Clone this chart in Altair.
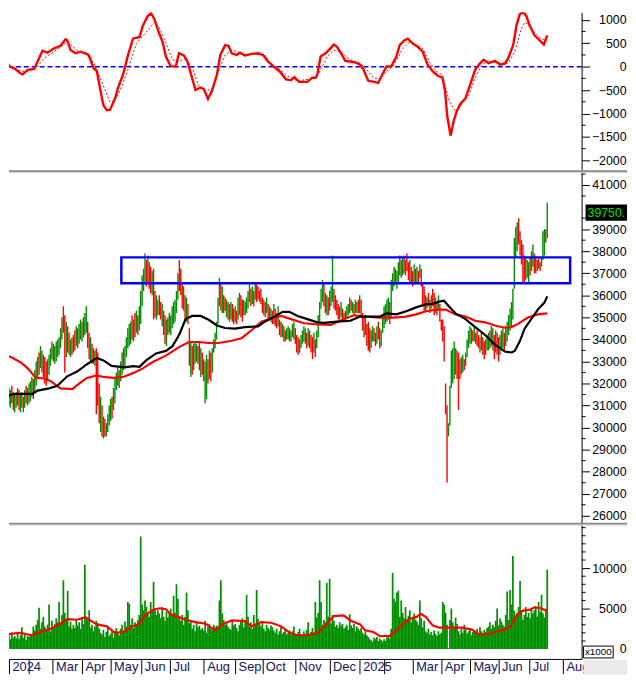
import altair as alt
import pandas as pd

FONT = "Liberation Sans"
GREEN = "#008f00"
RED = "#ff0000"
BLUE = "#0000ff"
NAVY = "#14145e"

W = 580
H_OSC, H_PRICE, H_VOL = 160, 357, 138
X_DOMAIN = [5, 405]

# ---------------- time axis: month separators (bar index) ----------------
month_pos = [5, 19, 35.5, 56, 76, 97.5, 117.5, 141, 163, 182, 205, 229, 250,
             267, 287, 307, 327, 347, 368.5, 392]
month_lbl = ["2024", "", "Mar", "Apr", "May", "Jun", "Jul", "Aug", "Sep", "Oct",
             "Nov", "Dec", "2025", "", "Mar", "Apr", "May", "Jun", "Jul", "Aug"]

# ---------------- daily bars (prices in hundreds) ----------------
bar_high = [
    330, 327, 325, 322, 320, 318, 317, 319, 316, 315,
    316, 318, 317, 315, 316, 314, 317, 319, 318, 320,
    321, 323, 322, 326, 330, 332, 334, 337, 335, 333,
    332, 330, 331, 333, 336, 339, 338, 337, 339, 340,
    341, 345, 350, 355, 351, 348, 346, 343, 340, 341,
    342, 344, 346, 345, 347, 349, 348, 350, 352, 355,
    348, 343, 341, 338, 336, 335, 336, 334, 320, 314,
    310, 305, 304, 302, 306, 310, 313, 314, 318, 322,
    325, 327, 326, 330, 334, 336, 337, 341, 345, 347,
    348, 351, 349, 352, 353, 351, 355, 362, 369, 372,
    379, 376, 378, 375, 373, 371, 372, 362, 360, 358,
    360, 357, 356, 353, 351, 349, 350, 352, 351, 355,
    357, 358, 362, 370, 376, 372, 365, 364, 360, 359,
    356, 345, 339, 337, 338, 339, 338, 337, 339, 336,
    334, 331, 330, 333, 331, 335, 334, 336, 340, 343,
    348, 359, 368, 365, 364, 360, 359, 358, 357, 356,
    357, 356, 354, 355, 353, 359, 361, 360, 358, 358,
    357, 359, 362, 365, 363, 364, 362, 366, 365, 364,
    362, 363, 359, 358, 357, 359, 356, 355, 354, 353,
    356, 354, 352, 355, 349, 348, 347, 346, 344, 345,
    346, 345, 344, 347, 348, 345, 342, 341, 340, 342,
    344, 346, 345, 343, 345, 344, 342, 341, 343, 340,
    344, 351, 357, 363, 367, 365, 361, 360, 359, 362,
    364, 378, 363, 360, 358, 356, 355, 357, 354, 352,
    353, 355, 356, 359, 358, 357, 356, 358, 357, 358,
    360, 358, 352, 350, 351, 347, 348, 345, 344, 346,
    345, 343, 346, 348, 345, 344, 351, 355, 356, 358,
    359, 357, 367, 370, 373, 372, 371, 375, 378, 376,
    377, 378, 376, 379, 375, 376, 373, 371, 374, 372,
    373, 371, 374, 372, 366, 364, 360, 359, 361, 358,
    360, 363, 361, 359, 357, 360, 356, 349, 349, 346,
    320, 310, 302, 319, 335, 336, 339, 336, 335, 334,
    331, 332, 333, 331, 334, 340, 344, 346, 345, 344,
    346, 343, 344, 342, 341, 343, 341, 339, 340, 342,
    343, 344, 346, 345, 342, 344, 343, 341, 342, 344,
    345, 343, 346, 348, 351, 354, 357, 363, 386, 391,
    393, 395, 389, 385, 383, 378, 377, 376, 375, 377,
    380, 383, 379, 377, 376, 377, 375, 377, 389, 390, 390, 402,
]
bar_low = [
    318, 315, 313, 312, 311, 310, 309, 311, 308, 307,
    309, 310, 308, 307, 309, 307, 309, 311, 310, 311,
    312, 314, 313, 316, 319, 322, 324, 327, 325, 323,
    320, 319, 321, 324, 328, 331, 330, 329, 330, 332,
    333, 336, 340, 343, 325, 332, 334, 333, 332, 333,
    334, 335, 337, 336, 338, 340, 339, 341, 342, 343,
    336, 331, 330, 329, 329, 328, 306, 310, 302, 298,
    296, 295, 296, 296, 298, 301, 303, 304, 308, 311,
    317, 319, 318, 321, 324, 326, 327, 332, 336, 337,
    338, 340, 339, 341, 343, 342, 344, 347, 355, 362,
    365, 364, 366, 363, 361, 360, 349, 350, 349, 351,
    351, 349, 346, 342, 338, 337, 342, 343, 342, 345,
    347, 348, 352, 358, 362, 360, 354, 353, 349, 348,
    347, 328, 323, 324, 326, 329, 330, 329, 326, 323,
    324, 321, 311, 313, 320, 322, 321, 325, 334, 336,
    340, 347, 355, 353, 352, 352, 353, 350, 349, 348,
    349, 348, 347, 348, 347, 349, 351, 350, 348, 351,
    351, 352, 354, 357, 355, 356, 355, 358, 357, 358,
    357, 356, 352, 351, 350, 352, 349, 349, 348, 347,
    347, 346, 345, 346, 342, 341, 341, 339, 339, 340,
    340, 339, 339, 341, 340, 338, 334, 333, 334, 336,
    338, 339, 338, 336, 337, 336, 334, 331, 334, 332,
    336, 341, 348, 354, 357, 355, 352, 351, 351, 353,
    355, 357, 354, 353, 351, 349, 349, 350, 348, 349,
    348, 350, 351, 352, 353, 352, 351, 352, 352, 352,
    352, 350, 344, 341, 342, 337, 335, 334, 336, 339,
    339, 337, 338, 340, 336, 337, 343, 345, 347, 348,
    349, 347, 350, 362, 364, 365, 363, 366, 369, 368,
    369, 370, 369, 371, 367, 366, 365, 364, 366, 365,
    366, 365, 368, 364, 355, 353, 353, 354, 355, 352,
    354, 355, 351, 352, 351, 353, 348, 344, 339, 330,
    306, 275, 296, 301, 318, 320, 322, 324, 322, 308,
    322, 324, 325, 326, 328, 332, 336, 338, 338, 339,
    339, 338, 337, 336, 334, 335, 333, 331, 333, 335,
    335, 336, 337, 335, 331, 334, 333, 330, 333, 335,
    336, 335, 337, 339, 342, 344, 346, 349, 363, 377,
    380, 383, 378, 374, 366, 366, 367, 368, 366, 369,
    371, 373, 370, 370, 371, 372, 371, 373, 376, 378, 384, 386,
]
bar_dir = (
    "rgrrgrgrrg" "grrgrggrgg" "ggrgggrggr" "rrggggrggg" "gggrrgrrgr"
    "grgrgggrgg" "rrgrrgrrrg" "rgrggggrgg" "grgggrgggg" "grgrgrgggg"
    "grgrrgrrgg" "rrgrrgrggg" "ggggrrrgrg" "rrgrgggrrg" "rrggrgrggg"
    "gggrgrrgrg" "grrgrggrrg" "ggggrgrgrr" "grrgrgrrgr" "grrgrrgrrg"
    "grgggrrrgg" "gggrgrrrgr" "gggggrrgrg" "ggrrrrggrr" "ggggrgrggr"
    "grrrgrrrgg" "rrgrrggggg" "grgggrggrg" "grgrrgrrgr" "grgrrrrgrr"
    "grrgrgrrrr" "rrggggggrr" "rggrgggggr" "grrrgrrrgg" "grggrgrrgg"
    "grgggggggg" "grrrrrgggr" "ggrrgrrgggrg"
)
# volume, in hundreds (axis unit is x1000)
bar_vol = [
    18, 41, 15, 22, 13, 17, 12, 19, 14, 16,
    13, 20, 12, 17, 27, 14, 18, 11, 16, 15,
    19, 17, 28, 23, 30, 36, 51, 25, 33, 40,
    28, 24, 30, 55, 22, 35, 27, 31, 38, 33,
    58, 30, 42, 85, 45, 36, 72, 28, 34, 25,
    30, 26, 37, 29, 33, 25, 38, 31, 104, 40,
    36, 48, 27, 30, 22, 28, 35, 32, 25, 20,
    18, 24, 15, 21, 27, 16, 19, 23, 14, 22,
    26, 20, 17, 25, 30, 21, 34, 28, 58, 56,
    30, 38, 26, 33, 29, 36, 42, 139, 55, 48,
    60, 52, 45, 40, 58, 47, 83, 50, 42, 48,
    44, 38, 52, 40, 35, 46, 39, 44, 50, 41,
    66, 45, 80, 62, 38, 35, 42, 30, 40, 70,
    48, 32, 36, 25, 30, 22, 34, 27, 29, 24,
    26, 23, 35, 20, 28, 31, 25, 24, 30, 27,
    29, 26, 60, 85, 44, 36, 30, 33, 28, 25,
    24, 35, 29, 31, 26, 22, 30, 34, 38, 27,
    36, 67, 40, 28, 33, 25, 42, 29, 73, 37,
    31, 28, 35, 25, 22, 30, 26, 24, 29, 27,
    23, 20, 25, 18, 22, 27, 19, 21, 24, 18,
    20, 23, 17, 22, 28, 19, 16, 21, 25, 18,
    16, 22, 19, 24, 33, 18, 21, 26, 20, 58,
    39, 45, 85, 58, 30, 36, 33, 82, 40, 87,
    32, 42, 35, 28, 30, 26, 33, 29, 31, 25,
    27, 30, 24, 43, 29, 26, 31, 22, 28, 25,
    23, 26, 20, 18, 22, 17, 15, 12, 11, 9,
    14, 12, 15, 10, 13, 11, 9, 12, 10, 14,
    16, 13, 25, 94, 62, 58, 70, 72, 40, 60,
    45, 38, 52, 35, 41, 48, 33, 39, 44, 36,
    34, 30, 60, 38, 27, 35, 22, 20, 25, 18,
    21, 17, 23, 19, 16, 22, 18, 20, 58, 55,
    45, 30, 1, 36, 50, 33, 28, 39, 31, 22,
    18, 25, 20, 30, 24, 19, 22, 26, 17, 21,
    23, 20, 25, 18, 27, 22, 19, 24, 21, 26,
    28, 33, 25, 30, 27, 35, 50, 29, 38, 34,
    30, 28, 42, 71, 36, 73, 55, 115, 47, 38,
    45, 52, 84, 48, 36, 42, 52, 40, 45, 38,
    50, 44, 48, 53, 40, 58, 46, 67, 44, 39, 50, 98,
]

# ---------------- oscillator (MACD-like) ----------------
macd_i = [0, 3, 5.4, 8.9, 13.5, 14.6, 18.1, 22.7, 25, 28.4, 31.9, 36.5, 41, 44.5, 45.7,
          48, 51.4, 54.9, 58.3, 60.6, 64, 66.4, 68.7, 71, 73.3, 75.6, 79, 81.3, 84.7,
          88.2, 91.6, 96.2, 98.5, 102, 104.3, 106.6, 110, 112.3, 114.6, 118, 121.5,
          123.8, 127.3, 129.6, 131.9, 135.3, 138.8, 141.1, 144, 146.8, 150.3, 152.6,
          156, 158.3, 160.6, 164, 166.4, 169.8, 174.4, 179, 182.5, 185.9, 190.5, 194,
          198.5, 202, 204.3, 207.7, 213.5, 216.9, 219.2, 220.4, 222.7, 226.1, 229.6,
          231.9, 234.2, 237.6, 239.9, 243.4, 246.8, 250.3, 252.6, 256, 259.5, 262.9,
          266.4, 268.7, 272.1, 275.6, 277.9, 281.3, 283.6, 287.1, 290.5, 294, 297.4,
          300.9, 304.3, 307.8, 309.6, 311.2, 313.5, 315.8, 318.1, 320.4, 323.9, 327.3,
          330.7, 334.2, 336.5, 339.9, 344.5, 348, 351.4, 353.7, 357.2, 359.5, 361.8,
          364.1, 366.4, 368.7, 372.1, 375.6, 378.6, 380, 381]
macd_v = [110, 125, 6, -42, -153, -167, -69, -48, 110, 340, 298, 390, 444, 583, 563,
          354, 285, 319, 285, 250, -28, -97, -479, -826, -930, -917, -688, -444, -167,
          250, 597, 632, 875, 1083, 1139, 1014, 701, 528, 215, 6, 6,
          285, 236, 110, -132, -500, -444, -479, -688, -514, -167, 250,
          458, 444, 285, 250, 298, 236, 271, 285, 250, 110, -14, -97,
          -271, -292, -222, -326, -326, -236, -236, -167, 215, 285, 390,
          472, 424, 250, 125, 110, 90, 42, -63, -306, -319, -347,
          -132, 6, 6, 215, 458, 563, 597, 493, 424, 319, 42,
          -97, -188, -236, -514, -1069, -1472, -1139, -930, -792, -674, -375,
          -63, 76, 146, 76, 125, 42, 63, 181, 458, 875, 1118,
          1167, 1083, 875, 667, 563, 472, 583, 667]
sig_i = [4.3, 13.5, 18.1, 25, 29.6, 36.5, 45.7, 52.6, 61.8, 68.7, 75.6, 79, 82.5, 87, 94,
         100.8, 106.6, 110, 113.5, 119.2, 123.8, 128.4, 133, 137.6, 142.2, 146.8, 151.4,
         156, 160.6, 169.8, 183.6, 188.2, 192.8, 199.7, 206.6, 218.1, 220.4, 227.3,
         231.9, 236.5, 243.4, 250.3, 254.9, 259.5, 264.1, 268.7, 273.3, 280.2, 284.8,
         289.4, 294, 298.6, 303.2, 307.8, 312.4, 317, 321.5, 326.1, 330.7, 335.3,
         339.9, 349, 353.7, 358.3, 362.9, 365.2, 367.5, 372.1, 376.7, 381]
sig_v = [42, -97, -97, 7, 181, 320, 528, 354, 215, -236, -757, -722, -514, -167, 493,
         736, 944, 840, 597, 146, 111, 181, -28, -410, -514, -479, -97,
         250, 354, 264, 250, 42, -28, -201, -306, -250, -201, 215,
         354, 319, 146, 76, -62, -236, -271, -97, 7, 389, 528,
         458, 389, 111, -97, -180, -722, -965, -792, -618, -236, 42,
         111, 76, 76, 319, 806, 944, 910, 736, 597, 563]

# ---------------- moving averages ----------------
ma_fast_i = [0, 4.3, 8.9, 21.5, 25, 33, 38.8, 45.7, 52.6, 59.5, 66.4, 71, 76.7, 85.9, 91.6,
             96.2, 100.8, 107.7, 114.6, 119.2, 123.8, 128.4, 133, 138.8, 144.5, 150.3,
             156, 162.9, 169.8, 179, 183.6, 190.5, 196.2, 200.8, 206.6, 213.5, 220.4,
             225, 234.2, 243.4, 250.3, 264.1, 268.7, 275.6, 282.5, 289.4, 296.3, 300.9,
             305.5, 308.9, 312.4, 317, 323.9, 330.7, 337.6, 344.5, 351.4, 356, 358.3,
             361.8, 365.2, 369.8, 374.4, 379, 381]
ma_fast_v = [31029, 31432, 31533, 31533, 31677, 31778, 31893, 32326, 32542, 32873, 33161,
             33046, 32801, 32729, 32786, 32758, 33046, 33363, 33478, 33694, 34199, 34919,
             35063, 35063, 34891, 34631, 34516, 34487, 34559, 34588, 34804, 35034, 35251,
             35251, 35063, 34919, 34775, 34746, 34804, 34847, 35034, 35034, 35178, 35135,
             35279, 35452, 35596, 35611, 35712, 35755, 35496, 35178, 34919, 34559, 34199,
             33766, 33449, 33406, 33478, 33910, 34487, 34919, 35351, 35668, 35950]
ma_slow_i = [0, 6.6, 13.5, 18.1, 23.8, 29.6, 34.2, 41, 49.1, 54.9, 59.5, 66.4, 71, 77.9,
             84.7, 91.6, 98.5, 105.4, 114.6, 123.8, 130.7, 137.6, 144.5, 151.4, 160.6,
             167.5, 174.4, 181.3, 188.2, 195.1, 202, 211.2, 220.4, 229.6, 238.8, 245.7,
             254.9, 264.1, 273.3, 282.5, 289.4, 296.3, 303.2, 310.1, 317, 323.9, 330.7,
             337.6, 344.5, 351.4, 356, 360.6, 367.5, 374.4, 381]
ma_slow_v = [33363, 33190, 32945, 32686, 32253, 32225, 32109, 31778, 31749, 32038, 32253,
             32369, 32297, 32253, 32297, 32470, 32686, 32974, 33262, 33651, 33882, 33882,
             33838, 33838, 33939, 34055, 34415, 34804, 34948, 35063, 34919, 34732, 34675,
             34660, 34919, 35092, 35034, 34991, 34991, 35034, 35135, 35279, 35351, 35351,
             35135, 35034, 34847, 34775, 34631, 34530, 34559, 34703, 34991, 35135, 35178]
vol_ma_i = [0, 6.6, 13.5, 20.4, 27.3, 34.2, 41, 45.7, 52.6, 58.3, 61.8, 66.4, 73.3, 79,
            84.7, 91.6, 96.2, 99.7, 105.4, 110, 114.6, 118.1, 123.8, 128.4, 135.3, 142.2,
            149.1, 153.7, 160.6, 169.8, 174.4, 181.3, 188.2, 195.1, 202, 206.6, 213.5,
            220.4, 227.3, 231.9, 238.8, 243.4, 250.3, 253.7, 259.5, 264.1, 271, 275.6,
            280.2, 284.8, 289.4, 292.8, 296.3, 300.9, 305.5, 321.5, 328.4, 333, 339.9,
            345.7, 351.4, 356, 359.5, 364.1, 368.7, 372.1, 376.7, 381]
vol_ma_v = [1586, 1911, 1992, 1708, 2114, 2520, 3130, 3700, 3618, 3944, 3537, 3049, 2805,
            1992, 2114, 2805, 3130, 4147, 4838, 5041, 4919, 4269, 3944, 3618, 3334, 3130,
            2317, 3049, 3537, 3456, 2805, 3334, 3253, 2805, 1911, 1708, 1708,
            1992, 3130, 4066, 4147, 3537, 3049, 2317, 2114, 1586, 1627, 2317,
            3130, 3740, 3944, 4350, 3944, 2927, 2643, 2643, 2398, 1830, 1830,
            2195, 2398, 2927, 4147, 4757, 4838, 5163, 5041, 4675]

# resistance zone (bar index range, price range)
zone_i = [83.5, 397]
zone_p = [36550, 37720]
last_close = 39750

# tick values (40000 label is hidden under the last-price tag)
osc_ticks = [-2000, -1500, -1000, -500, 0, 500, 1000]
osc_minor = [-1750, -1250, -750, -250, 250, 750]
price_ticks = [p for p in range(26000, 41001, 1000) if p != 40000]
price_minor = list(range(26500, 41501, 1000))
vol_ticks = [0, 5000, 10000]
vol_minor = [1000, 2000, 3000, 4000, 6000, 7000, 8000, 9000, 11000, 12000, 13000, 14000, 15000]

# ---------------- tables ----------------
n = min(len(bar_high), len(bar_low), len(bar_dir), len(bar_vol))
bars = pd.DataFrame({
    "i": list(range(n)),
    "hi": [h * 100 for h in bar_high[:n]],
    "lo": [v * 100 for v in bar_low[:n]],
    "d": list(bar_dir[:n]),
    "vol": [v * 100 for v in bar_vol[:n]],
})
bars["i0"] = bars["i"] - 0.6
bars["i1"] = bars["i"] + 0.6
bars["zero"] = 0


def pts(xs, vs):
    m = min(len(xs), len(vs))
    return pd.DataFrame({"i": xs[:m], "v": vs[:m]})


xs = alt.Scale(domain=X_DOMAIN, nice=False, zero=False)
osc_s = alt.Scale(domain=[-2210, 1160], nice=False, zero=False)
price_s = alt.Scale(domain=[25687, 41672], nice=False, zero=False)
vol_s = alt.Scale(domain=[-1220, 15610], nice=False, zero=False)

yax = dict(orient="right", grid=False, title=None, domainColor="black", domainWidth=1,
           tickColor="black", tickSize=8, tickWidth=1, labelAlign="right",
           labelBaseline="middle", labelPadding=37, labelFont=FONT, labelFontSize=12.5,
           labelColor="black", labelOverlap=False, labelBound=False, labelFlush=False,
           format="d")
osc_ax = alt.Axis(values=osc_ticks, **yax)
price_ax = alt.Axis(values=price_ticks, **yax)
vol_ax = alt.Axis(values=vol_ticks, **yax)

label_expr = " : ".join(f"datum.value == {p} ? '{l}'" for p, l in zip(month_pos, month_lbl)) + " : ''"
x_ax = alt.Axis(values=month_pos, labelExpr=label_expr, orient="bottom", grid=False, title=None,
                tickSize=15, tickColor="black", tickWidth=1, domainColor="black", domainWidth=1,
                labelAlign="left", labelBaseline="top", labelPadding=-13, labelOffset=3,
                labelFont=FONT, labelFontSize=13, labelColor=NAVY, labelOverlap=False,
                labelBound=False, labelFlush=False)
one = pd.DataFrame({"a": [0]})


def separator():
    dark = alt.Chart(one).mark_rule(color="#8a8a8a", strokeWidth=2).encode(
        x=alt.value(0), x2=alt.value(W + 46), y=alt.value(1))
    light = alt.Chart(one).mark_rule(color="#d8d8d8", strokeWidth=1).encode(
        x=alt.value(0), x2=alt.value(W + 46), y=alt.value(2.5))
    return [dark, light]


# ---------------- oscillator panel ----------------
zero_line = alt.Chart(pd.DataFrame({"v": [0]})).mark_rule(
    color=BLUE, strokeDash=[5, 3], strokeWidth=1.5).encode(
    y=alt.Y("v:Q", scale=osc_s, axis=osc_ax))
sig_line = alt.Chart(pts(sig_i, sig_v)).mark_line(
    color=RED, strokeWidth=1, strokeDash=[2, 2], clip=True).encode(
    x=alt.X("i:Q", scale=xs, axis=None), y=alt.Y("v:Q", scale=osc_s, axis=osc_ax))
macd_line = alt.Chart(pts(macd_i, macd_v)).mark_line(
    color=RED, strokeWidth=2.4, clip=True).encode(
    x=alt.X("i:Q", scale=xs, axis=None), y=alt.Y("v:Q", scale=osc_s, axis=osc_ax))
osc_minor_t = alt.Chart(pd.DataFrame({"v": osc_minor})).mark_rule(color="black").encode(
    x=alt.value(W), x2=alt.value(W + 4), y=alt.Y("v:Q", scale=osc_s, axis=osc_ax))
top = alt.layer(zero_line, sig_line, macd_line, osc_minor_t).properties(width=W, height=H_OSC)

# ---------------- price panel ----------------
candles = alt.Chart(bars).mark_rule(strokeWidth=1.4, clip=True).encode(
    x=alt.X("i:Q", scale=xs, axis=None),
    y=alt.Y("lo:Q", scale=price_s, axis=price_ax),
    y2="hi:Q",
    color=alt.Color("d:N", scale=alt.Scale(domain=["g", "r"], range=[GREEN, RED]), legend=None))
ma_slow = alt.Chart(pts(ma_slow_i, ma_slow_v)).mark_line(color=RED, strokeWidth=2.2, clip=True).encode(
    x=alt.X("i:Q", scale=xs, axis=None), y=alt.Y("v:Q", scale=price_s, axis=price_ax))
ma_fast = alt.Chart(pts(ma_fast_i, ma_fast_v)).mark_line(color="black", strokeWidth=2.2, clip=True).encode(
    x=alt.X("i:Q", scale=xs, axis=None), y=alt.Y("v:Q", scale=price_s, axis=price_ax))
zone = alt.Chart(pd.DataFrame({"x1": [zone_i[0]], "x2": [zone_i[1]], "y1": [zone_p[0]], "y2": [zone_p[1]]})).mark_rect(
    filled=False, color=BLUE, strokeWidth=2.5).encode(
    x=alt.X("x1:Q", scale=xs, axis=None), x2="x2:Q",
    y=alt.Y("y1:Q", scale=price_s, axis=price_ax), y2="y2:Q")
price_minor_t = alt.Chart(pd.DataFrame({"v": price_minor})).mark_rule(color="black").encode(
    x=alt.value(W), x2=alt.value(W + 4), y=alt.Y("v:Q", scale=price_s, axis=price_ax))
tag_df = pd.DataFrame({"p": [last_close], "lo": [last_close - 370], "hi": [last_close + 370],
                       "t": [f"{last_close:.2f}"]})
tag_box = alt.Chart(tag_df).mark_rect(color="black").encode(
    x=alt.value(W + 4), x2=alt.value(W + 46),
    y=alt.Y("lo:Q", scale=price_s, axis=price_ax), y2="hi:Q")
tag_txt = alt.Chart(tag_df).mark_text(
    align="left", baseline="middle", color="#00e000", font=FONT, fontSize=12.5,
    limit=40, ellipsis="\u200b").encode(
    x=alt.value(W + 6), y=alt.Y("p:Q", scale=price_s, axis=price_ax), text="t:N")
mid = alt.layer(candles, ma_slow, ma_fast, zone, price_minor_t, tag_box, tag_txt,
                *separator()).properties(width=W, height=H_PRICE)

# ---------------- volume panel ----------------
vol_bars = alt.Chart(bars).mark_rect(color=GREEN, clip=True).encode(
    x=alt.X("i0:Q", scale=xs, axis=x_ax), x2="i1:Q",
    y=alt.Y("zero:Q", scale=vol_s, axis=vol_ax), y2="vol:Q")
vol_ma = alt.Chart(pts(vol_ma_i, vol_ma_v)).mark_line(color=RED, strokeWidth=2.2, clip=True).encode(
    x=alt.X("i:Q", scale=xs, axis=x_ax), y=alt.Y("v:Q", scale=vol_s, axis=vol_ax))
vol_minor_t = alt.Chart(pd.DataFrame({"v": vol_minor})).mark_rule(color="black").encode(
    x=alt.value(W), x2=alt.value(W + 4), y=alt.Y("v:Q", scale=vol_s, axis=vol_ax))
unit_box = alt.Chart(one).mark_rect(fill="white", stroke="black", strokeWidth=1).encode(
    x=alt.value(W + 2), x2=alt.value(W + 32), y=alt.value(125), y2=alt.value(137))
unit_txt = alt.Chart(pd.DataFrame({"t": ["x1000"]})).mark_text(
    align="center", baseline="middle", font=FONT, fontSize=10, color="black").encode(
    x=alt.value(W + 17), y=alt.value(131.5), text="t:N")
corner = alt.Chart(one).mark_rect(color="#ebebeb").encode(
    x=alt.value(W + 2), x2=alt.value(W + 46), y=alt.value(139), y2=alt.value(154))
bot = alt.layer(vol_bars, vol_ma, vol_minor_t, unit_box, unit_txt, corner,
                *separator()).properties(width=W, height=H_VOL)

chart = alt.vconcat(top, mid, bot, spacing=0, bounds="flush").properties(
    padding=0, background="white").configure_view(stroke=None)

chart.save("out.html", embed_options={"renderer": "svg", "actions": False})
